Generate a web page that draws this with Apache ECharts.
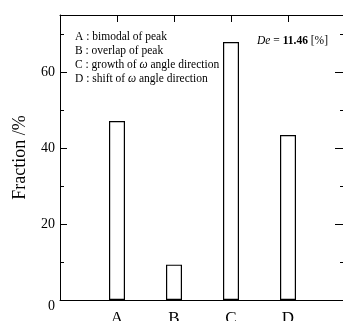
<!DOCTYPE html>
<html><head><meta charset="utf-8">
<script src="https://cdn.jsdelivr.net/npm/echarts@6/dist/echarts.min.js"></script>
<style>html,body{margin:0;padding:0;background:#fff}#c{width:343px;height:321px}</style>
</head><body><div id="c"></div>
<script>
var categories = ['A', 'B', 'C', 'D'];
var fractions = [47.1, 9.3, 67.9, 43.4];
var yTicks = [0, 20, 40, 60];
var legendLines = [
  ['A : bimodal of peak'],
  ['B : overlap of peak'],
  ['C : growth of ', 'ω', ' angle direction'],
  ['D : shift of ', 'ω', ' angle direction']
];
var deValue = '11.46';

var font = '"Liberation Serif", "Times New Roman", serif';
var chart = echarts.init(document.getElementById('c'), null, {renderer: 'canvas'});

var graphics = legendLines.map(function (parts, i) {
  var txt = parts.length === 1 ? parts[0] : parts[0] + '{i|' + parts[1] + '}' + parts[2];
  return {
    type: 'text', left: 75, top: 31 + i * 14, z: 100,
    style: { text: txt, fontFamily: font, fontSize: 11.5, fill: '#000',
      rich: { i: { fontStyle: 'italic', fontFamily: font, fontSize: 11.5 } } }
  };
});
graphics.push({
  type: 'text', left: 257, top: 35, z: 100,
  style: { text: '{i|De} = {b|' + deValue + '} [%]', fontFamily: font, fontSize: 11.5, fill: '#000',
    rich: { i: { fontStyle: 'italic', fontFamily: font, fontSize: 11.5 },
            b: { fontWeight: 'bold', fontFamily: font, fontSize: 11.5 } } }
});

var axisLine = { show: true, onZero: false, lineStyle: { color: '#000', width: 1 } };
chart.setOption({
  animation: false,
  backgroundColor: '#fff',
  grid: { left: 60, top: 15, width: 285, height: 285, containLabel: false, outerBoundsMode: 'none' },
  xAxis: [{
    type: 'value', min: 0, max: 5, interval: 1, position: 'bottom',
    axisLine: axisLine, axisTick: { show: false }, splitLine: { show: false },
    axisLabel: { fontFamily: font, fontSize: 17, color: '#000', margin: 10,
      formatter: function (v) { return categories[v - 1] || ''; } }
  }, {
    type: 'value', min: 0, max: 5, interval: 1, position: 'top',
    axisLine: axisLine, splitLine: { show: false }, axisLabel: { show: false },
    axisTick: { show: true, inside: true, length: 7, lineStyle: { color: '#000' } }
  }],
  yAxis: [{
    type: 'value', min: 0, max: 75, interval: 20, position: 'left',
    name: 'Fraction /%', nameLocation: 'middle', nameGap: 31,
    nameTextStyle: { fontFamily: font, fontSize: 18, color: '#000' },
    axisLine: axisLine, splitLine: { show: false },
    axisTick: { show: true, inside: true, length: 7, lineStyle: { color: '#000' } },
    minorTick: { show: true, splitNumber: 2, length: 4, lineStyle: { color: '#000' } },
    axisLabel: { fontFamily: font, fontSize: 14, color: '#000', margin: 5,
      formatter: function (v) {
        if (v === 0) return '{z|0}';
        return yTicks.indexOf(v) >= 0 ? String(v) : '';
      },
      rich: { z: { fontFamily: font, fontSize: 14, color: '#000', padding: [13, 0, 0, 0] } } }
  }, {
    type: 'value', min: 0, max: 75, interval: 20, position: 'right',
    axisLine: axisLine, splitLine: { show: false }, axisLabel: { show: false },
    axisTick: { show: true, inside: true, length: 10, lineStyle: { color: '#000' } },
    minorTick: { show: true, splitNumber: 2, length: 5, lineStyle: { color: '#000' } }
  }],
  series: [{
    type: 'bar', xAxisIndex: 0, yAxisIndex: 0, barWidth: 16,
    data: fractions.map(function (v, i) { return [i + 1, v]; }),
    itemStyle: { color: '#fff', borderColor: '#000', borderWidth: 1.2 }
  }],
  graphic: graphics
});
</script></body></html>
